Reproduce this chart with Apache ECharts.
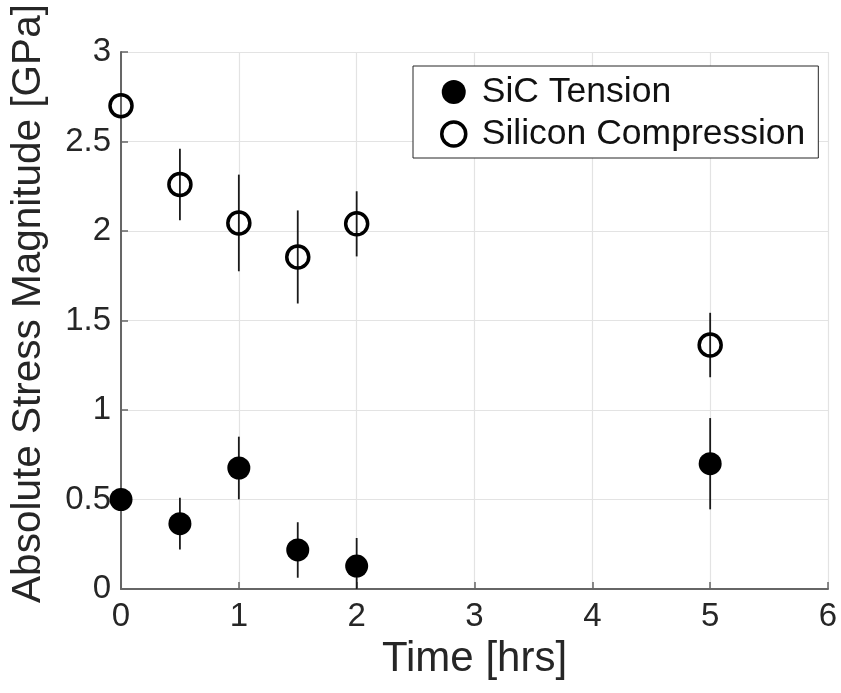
<!DOCTYPE html>
<html>
<head>
<meta charset="utf-8">
<script src="https://cdn.jsdelivr.net/npm/echarts@6/dist/echarts.min.js"></script>
<style>
html,body{margin:0;padding:0;background:#fff;}
#chart{width:841px;height:693px;}
</style>
</head>
<body>
<div id="chart"></div>
<script>
// Data
var times = [0, 0.5, 1, 1.5, 2, 5];
var sicTension = [0.50, 0.365, 0.676, 0.218, 0.128, 0.70];
var sicErr = [0, 0.145, 0.175, 0.155, 0.157, 0.255];
var siCompression = [2.70, 2.26, 2.045, 1.855, 2.04, 1.363];
var siErr = [0, 0.20, 0.27, 0.26, 0.182, 0.18];
var xTicks = [0, 1, 2, 3, 4, 5, 6];
var yTicks = [0, 0.5, 1, 1.5, 2, 2.5, 3];

var FONT = 'Liberation Sans, Arial, sans-serif';
var TXT = '#262626';

function pts(vals) {
  return times.map(function (t, i) { return [t, vals[i]]; });
}
function bars(vals, errs) {
  var out = [];
  times.forEach(function (t, i) {
    if (errs[i] > 0) out.push([t, vals[i] - errs[i], vals[i] + errs[i]]);
  });
  return out;
}
function renderBar(params, api) {
  var x = api.value(0);
  var p1 = api.coord([x, api.value(1)]);
  var p2 = api.coord([x, api.value(2)]);
  return {
    type: 'line',
    shape: { x1: p1[0], y1: p1[1], x2: p2[0], y2: p2[1] },
    style: { stroke: '#1a1a1a', lineWidth: 1.8 }
  };
}

var chart = echarts.init(document.getElementById('chart'), null, { renderer: 'canvas' });
chart.setOption({
  backgroundColor: '#ffffff',
  animation: false,
  textStyle: { fontFamily: FONT },
  grid: { left: 120, right: 13, top: 52, bottom: 104, containLabel: false },
  legend: {
    orient: 'vertical',
    left: 413,
    top: 66,
    backgroundColor: '#ffffff',
    borderColor: '#262626',
    borderWidth: 1,
    borderRadius: 0,
    padding: [8, 13, 6, 27],
    itemGap: 6,
    itemWidth: 24,
    itemHeight: 24,
    textStyle: { fontFamily: FONT, fontSize: 35.5, color: '#111', lineHeight: 35, padding: [0, 0, 0, 11] },
    data: [
      { name: 'SiC Tension', icon: 'circle' },
      { name: 'Silicon Compression', icon: 'circle', itemStyle: { color: 'rgba(0,0,0,0)', borderColor: '#000', borderWidth: 3.5 } }
    ]
  },
  xAxis: {
    type: 'value',
    min: 0, max: 6, interval: 1,
    name: 'Time [hrs]',
    nameLocation: 'middle',
    nameGap: 49,
    nameTextStyle: { fontFamily: FONT, fontSize: 42, color: TXT },
    axisLine: { show: true, onZero: false, lineStyle: { color: '#666', width: 2 } },
    axisTick: { show: true, inside: true, length: 7, lineStyle: { color: '#666', width: 1.5 } },
    axisLabel: { fontFamily: FONT, fontSize: 33, color: TXT, margin: 11 },
    splitLine: { show: true, lineStyle: { color: '#e3e3e3', width: 1.2 } }
  },
  yAxis: {
    type: 'value',
    min: 0, max: 3, interval: 0.5,
    name: 'Absolute Stress Magnitude [GPa]',
    nameLocation: 'middle',
    nameGap: 72,
    nameTextStyle: { fontFamily: FONT, fontSize: 40.5, color: TXT, padding: [0, 0, 0, 34] },
    axisLine: { show: true, lineStyle: { color: '#666', width: 2 } },
    axisTick: { show: true, inside: true, length: 7, lineStyle: { color: '#666', width: 1.5 } },
    axisLabel: { fontFamily: FONT, fontSize: 33, color: TXT, margin: 10 },
    splitLine: { show: true, lineStyle: { color: '#e3e3e3', width: 1.2 } }
  },
  series: [
    {
      name: 'SiC Tension Error',
      type: 'custom',
      clip: true,
      z: 1,
      renderItem: renderBar,
      data: bars(sicTension, sicErr),
      encode: { x: 0, y: [1, 2] }
    },
    {
      name: 'Silicon Compression Error',
      type: 'custom',
      clip: true,
      z: 1,
      renderItem: renderBar,
      data: bars(siCompression, siErr),
      encode: { x: 0, y: [1, 2] }
    },
    {
      name: 'SiC Tension',
      type: 'scatter',
      z: 5,
      symbol: 'circle',
      symbolSize: 23,
      itemStyle: { color: '#000000', opacity: 1 },
      data: pts(sicTension)
    },
    {
      name: 'Silicon Compression',
      type: 'scatter',
      z: 5,
      symbol: 'circle',
      symbolSize: 22,
      itemStyle: { color: 'rgba(0,0,0,0)', borderColor: '#000000', borderWidth: 3.5, opacity: 1 },
      data: pts(siCompression)
    }
  ]
});
</script>
</body>
</html>
